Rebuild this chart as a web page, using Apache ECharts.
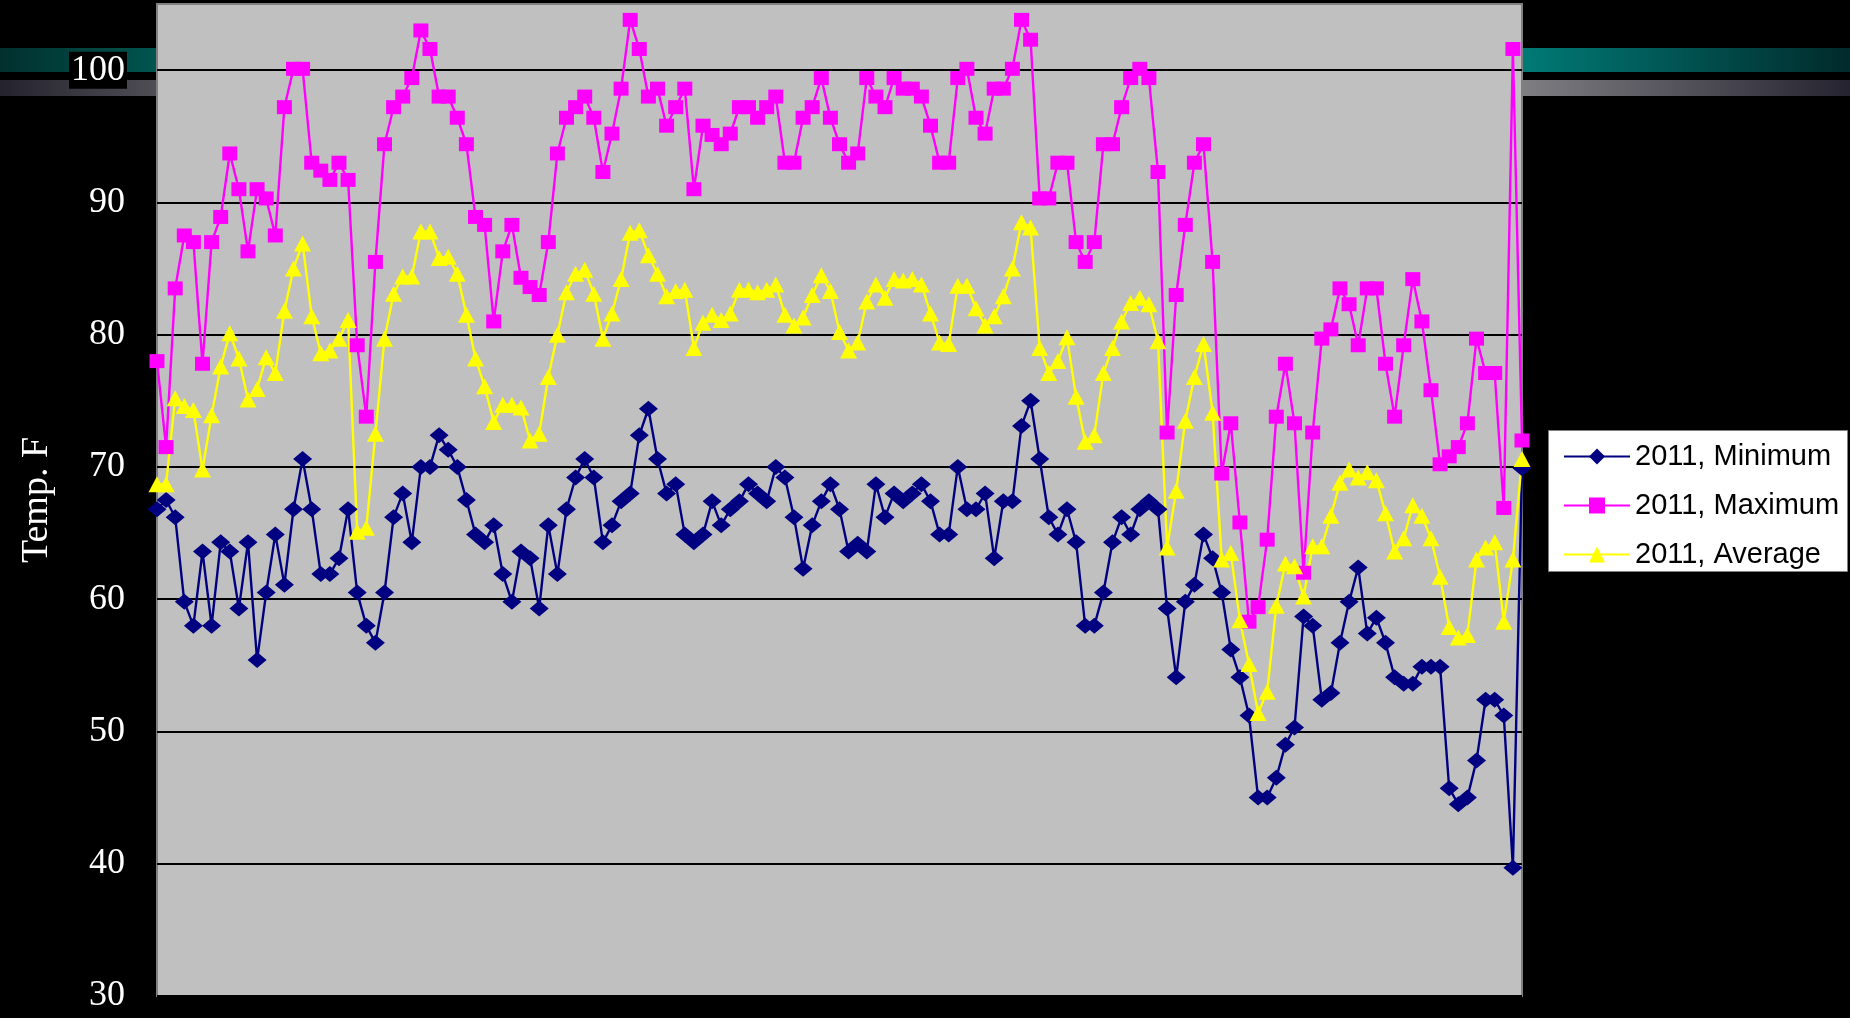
<!DOCTYPE html>
<html>
<head>
<meta charset="utf-8">
<script src="https://cdn.jsdelivr.net/npm/echarts@6/dist/echarts.min.js"></script>
<style>
  html, body { margin: 0; padding: 0; background: #000; }
  #chart { width: 1850px; height: 1018px; }
</style>
</head>
<body>
<div id="chart"></div>
<script>
// Daily temperatures (°F), 2011
const seriesNames = ['2011, Minimum', '2011, Maximum', '2011, Average'];

const minTemps = [
  66.8, 67.5, 66.2, 59.8, 58.0, 63.6, 58.0, 64.3, 63.6, 59.3,
  64.3, 55.4, 60.5, 64.9, 61.1, 66.8, 70.6, 66.8, 61.9, 61.9,
  63.1, 66.8, 60.5, 58.0, 56.7, 60.5, 66.2, 68.0, 64.3, 70.0,
  70.0, 72.4, 71.3, 70.0, 67.5, 64.9, 64.3, 65.6, 61.9, 59.8,
  63.6, 63.1, 59.3, 65.6, 61.9, 66.8, 69.2, 70.6, 69.2, 64.3,
  65.6, 67.4, 68.0, 72.4, 74.4, 70.6, 68.0, 68.7, 64.9, 64.3,
  64.9, 67.4, 65.6, 66.8, 67.4, 68.7, 68.0, 67.4, 70.0, 69.2,
  66.2, 62.3, 65.6, 67.4, 68.7, 66.8, 63.6, 64.2, 63.6, 68.7,
  66.2, 68.0, 67.4, 68.0, 68.7, 67.4, 64.9, 64.9, 70.0, 66.8,
  66.8, 68.0, 63.1, 67.4, 67.4, 73.1, 75.0, 70.6, 66.2, 64.9,
  66.8, 64.3, 58.0, 58.0, 60.5, 64.3, 66.2, 64.9, 66.8, 67.4,
  66.8, 59.3, 54.1, 59.8, 61.1, 64.9, 63.1, 60.5, 56.2, 54.1,
  51.2, 45.0, 45.0, 46.5, 49.0, 50.3, 58.7, 58.0, 52.4, 52.9,
  56.7, 59.8, 62.4, 57.4, 58.6, 56.7, 54.1, 53.6, 53.6, 54.9,
  54.9, 54.9, 45.7, 44.5, 45.0, 47.8, 52.4, 52.4, 51.2, 39.7,
  69.9
];

const maxTemps = [
  78.0, 71.5, 83.5, 87.5, 87.0, 77.8, 87.0, 88.9, 93.7, 91.0,
  86.3, 91.0, 90.3, 87.5, 97.2, 100.1, 100.1, 93.0, 92.4, 91.7,
  93.0, 91.7, 79.2, 73.8, 85.5, 94.4, 97.2, 98.0, 99.4, 103.0,
  101.6, 98.0, 98.0, 96.4, 94.4, 88.9, 88.3, 81.0, 86.3, 88.3,
  84.3, 83.6, 83.0, 87.0, 93.7, 96.4, 97.2, 98.0, 96.4, 92.3,
  95.2, 98.6, 103.8, 101.6, 98.0, 98.6, 95.8, 97.2, 98.6, 91.0,
  95.8, 95.1, 94.4, 95.2, 97.2, 97.2, 96.4, 97.2, 98.0, 93.0,
  93.0, 96.4, 97.2, 99.4, 96.4, 94.4, 93.0, 93.7, 99.4, 98.0,
  97.2, 99.4, 98.6, 98.6, 98.0, 95.8, 93.0, 93.0, 99.4, 100.1,
  96.4, 95.2, 98.6, 98.6, 100.1, 103.8, 102.3, 90.3, 90.3, 93.0,
  93.0, 87.0, 85.5, 87.0, 94.4, 94.4, 97.2, 99.4, 100.1, 99.4,
  92.3, 72.6, 83.0, 88.3, 93.0, 94.4, 85.5, 69.5, 73.3, 65.8,
  58.3, 59.4, 64.5, 73.8, 77.8, 73.3, 62.0, 72.6, 79.7, 80.4,
  83.5, 82.3, 79.2, 83.5, 83.5, 77.8, 73.8, 79.2, 84.2, 81.0,
  75.8, 70.2, 70.8, 71.5, 73.3, 79.7, 77.1, 77.1, 66.9, 101.6,
  72.0
];

const avgTemps = [
  68.7, 68.7, 75.2, 74.6, 74.3, 69.8, 73.9, 77.6, 80.1, 78.2,
  75.1, 75.9, 78.3, 77.1, 81.8, 85.0, 86.9, 81.4, 78.6, 78.8,
  79.7, 81.1, 65.1, 65.4, 72.5, 79.7, 83.1, 84.4, 84.4, 87.8,
  87.8, 85.8, 85.9, 84.6, 81.5, 78.2, 76.1, 73.4, 74.7, 74.7,
  74.5, 72.0, 72.5, 76.8, 80.0, 83.2, 84.6, 84.9, 83.1, 79.7,
  81.6, 84.2, 87.7, 87.9, 86.0, 84.6, 82.9, 83.3, 83.4, 79.0,
  80.9, 81.5, 81.1, 81.6, 83.4, 83.4, 83.2, 83.4, 83.8, 81.5,
  80.7, 81.3, 83.0, 84.5, 83.3, 80.2, 78.8, 79.4, 82.5, 83.8,
  82.8, 84.2, 84.1, 84.2, 83.8, 81.6, 79.4, 79.3, 83.7, 83.7,
  82.0, 80.7, 81.4, 82.9, 85.0, 88.5, 88.1, 79.0, 77.1, 78.0,
  79.8, 75.3, 71.9, 72.4, 77.1, 79.0, 81.0, 82.4, 82.8, 82.3,
  79.5, 63.9, 68.2, 73.5, 76.8, 79.3, 74.1, 63.0, 63.5, 58.4,
  55.1, 51.4, 53.0, 59.5, 62.7, 62.5, 60.2, 64.0, 64.0, 66.3,
  68.8, 69.8, 69.2, 69.6, 69.0, 66.5, 63.6, 64.6, 67.1, 66.3,
  64.6, 61.7, 57.9, 57.1, 57.3, 63.0, 63.9, 64.3, 58.3, 63.0,
  70.6
];

// Day numbers along the (unlabelled) category axis
const days = minTemps.map((_, i) => String(i + 1));

// Value-axis range and step
const yMin = 30;
const yMax = 105;
const yStep = 10;

const chart = echarts.init(document.getElementById('chart'));

function hGradient(from, to) {
  return new echarts.graphic.LinearGradient(0, 0, 1, 0, [
    { offset: 0, color: from },
    { offset: 1, color: to }
  ]);
}

chart.setOption({
  animation: false,
  backgroundColor: '#000000',
  graphic: [
    // template stripes behind the chart
    { type: 'rect', z: -1, shape: { x: 0, y: 48, width: 157, height: 24 },
      style: { fill: hGradient('#02302e', '#00554f') } },
    { type: 'rect', z: -1, shape: { x: 1523, y: 48, width: 327, height: 24 },
      style: { fill: hGradient('#007a76', '#022a2b') } },
    { type: 'rect', z: -1, shape: { x: 0, y: 80, width: 157, height: 16 },
      style: { fill: hGradient('#24222c', '#4f4e55') } },
    { type: 'rect', z: -1, shape: { x: 1523, y: 80, width: 327, height: 16 },
      style: { fill: hGradient('#7f7e83', '#25232f') } },
    // legend frame
    { type: 'rect', z: 3, shape: { x: 1548.5, y: 430.5, width: 299, height: 141 },
      style: { fill: '#ffffff', stroke: '#808080', lineWidth: 1 } }
  ],
  grid: {
    show: true,
    left: 157,
    right: 328,
    top: 4,
    bottom: 22,
    backgroundColor: '#C0C0C0',
    borderColor: '#808080',
    borderWidth: 2
  },
  legend: {
    orient: 'vertical',
    left: 1558,
    top: 437,
    itemWidth: 66,
    itemHeight: 20,
    itemGap: 20,
    data: seriesNames,
    textStyle: {
      fontFamily: 'Liberation Sans',
      fontSize: 29,
      color: '#000000',
      padding: [0, 0, 0, 0]
    }
  },
  xAxis: {
    type: 'category',
    data: days,
    boundaryGap: false,
    axisLine: { show: false },
    axisTick: { show: false },
    axisLabel: { show: false },
    splitLine: { show: false }
  },
  yAxis: {
    type: 'value',
    min: yMin,
    max: yMax,
    interval: yStep,
    name: 'Temp. F',
    nameLocation: 'middle',
    nameRotate: 90,
    nameGap: 101,
    nameTextStyle: {
      color: '#ffffff',
      fontFamily: 'Liberation Serif',
      fontSize: 38
    },
    axisLine: { show: false },
    axisTick: { show: false },
    axisLabel: {
      color: '#ffffff',
      fontFamily: 'Liberation Serif',
      fontSize: 36,
      margin: 30,
      showMaxLabel: false,
      backgroundColor: '#000000',
      padding: [1, 2, 0, 2]
    },
    splitLine: {
      show: true,
      showMaxLine: false,
      lineStyle: { color: '#000000', width: 2 }
    }
  },
  series: [
    {
      name: seriesNames[0],
      type: 'line',
      data: minTemps,
      symbol: 'diamond',
      symbolSize: [19, 16],
      showAllSymbol: true,
      itemStyle: { color: '#000080' },
      lineStyle: { color: '#000080', width: 2.4 }
    },
    {
      name: seriesNames[1],
      type: 'line',
      data: maxTemps,
      symbol: 'rect',
      symbolSize: [15, 14],
      showAllSymbol: true,
      itemStyle: { color: '#FF00FF' },
      lineStyle: { color: '#FF00FF', width: 2.4 }
    },
    {
      name: seriesNames[2],
      type: 'line',
      data: avgTemps,
      symbol: 'triangle',
      symbolSize: [17, 16],
      showAllSymbol: true,
      itemStyle: { color: '#FFFF00' },
      lineStyle: { color: '#FFFF00', width: 2.4 }
    }
  ]
});
</script>
</body>
</html>
